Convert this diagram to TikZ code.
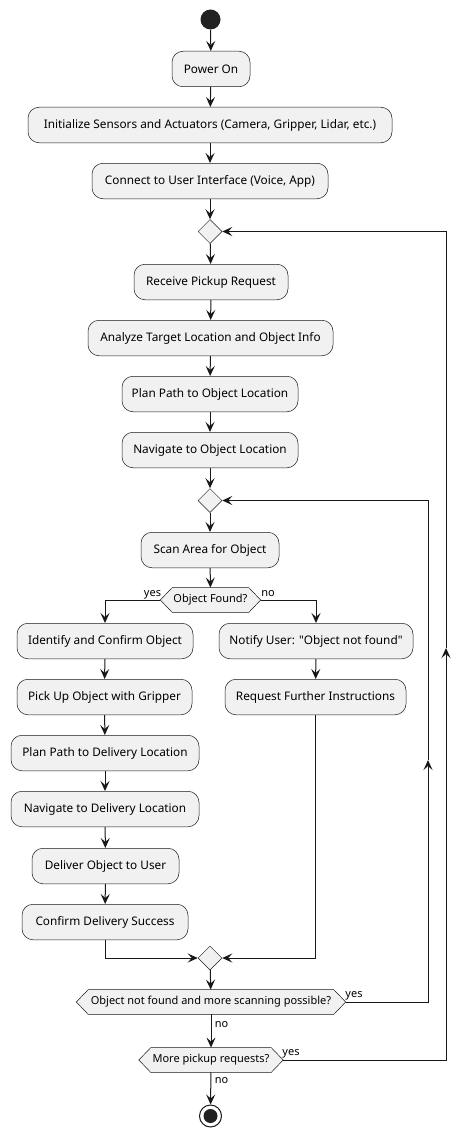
\documentclass[tikz,border=0pt]{standalone}
\usepackage{fontspec}
\setmainfont{Noto Sans}[Ligatures=TeXOff]
\usetikzlibrary{shapes.geometric,arrows.meta,backgrounds}
\definecolor{boxfill}{HTML}{F1F1F1}
\definecolor{ink}{HTML}{181818}
\definecolor{dotc}{HTML}{222222}
\begin{document}
\begin{tikzpicture}[x=1pt,y=-1pt,
  act/.style={draw=ink, fill=boxfill, line width=0.5pt, rounded corners=11pt,
    minimum height=35.5pt, inner sep=0pt, font=\fontsize{11.8}{14}\selectfont},
  dia/.style={draw=ink, fill=boxfill, line width=0.5pt, diamond, inner sep=0pt,
    minimum width=24pt, minimum height=24pt},
  hexa/.style={inner sep=0pt, minimum height=24.5pt, font=\fontsize{11}{13}\selectfont},
  hexline/.style={draw=ink, fill=boxfill, line width=0.5pt},
  lbl/.style={font=\fontsize{11}{13}\selectfont, inner sep=0pt},
  arr/.style={draw=ink, line width=1pt, -{Stealth[length=10pt,width=9pt,inset=4pt]}},
  ln/.style={draw=ink, line width=1pt}
]
\useasboundingbox (0,0) rectangle (470,1137);

\node[circle, fill=dotc, minimum size=20pt, inner sep=0pt] (start) at (210.5,19.5) {};
\node[act, minimum width=78pt] (power) at (211,69) {Power On};
\node[act, minimum width=364pt] (init) at (210,125) {Initialize Sensors and Actuators (Camera, Gripper, Lidar, etc.)};
\node[act, minimum width=236pt] (connect) at (210,181) {Connect to User Interface (Voice, App)};
\node[dia] (d1) at (210,231.5) {};
\node[act, minimum width=154pt] (receive) at (211,282) {Receive Pickup Request};
\node[act, minimum width=245pt] (analyze) at (210.5,338) {Analyze Target Location and Object Info};
\node[act, minimum width=176pt] (planobj) at (210,394) {Plan Path to Object Location};
\node[act, minimum width=176pt] (navobj) at (210,450) {Navigate to Object Location};
\node[dia] (d2) at (210,500.5) {};
\node[act, minimum width=138pt] (scan) at (210,550) {Scan Area for Object};
\node[hexa, minimum width=76pt] (found) at (210.5,600) {Object Found?};
\node[act, minimum width=176pt] (identify) at (105,641) {Identify and Confirm Object};
\node[act, minimum width=194pt] (notify) at (316,641) {Notify User: "Object not found"};
\node[act, minimum width=175pt] (pickup) at (104.5,697) {Pick Up Object with Gripper};
\node[act, minimum width=181pt] (request) at (315.5,697) {Request Further Instructions};
\node[act, minimum width=188pt] (plandel) at (105,753) {Plan Path to Delivery Location};
\node[act, minimum width=188pt] (navdel) at (105,809) {Navigate to Delivery Location};
\node[act, minimum width=147pt] (deliver) at (105.5,866) {Deliver Object to User};
\node[act, minimum width=166pt] (confirm) at (105,922) {Confirm Delivery Success};
\node[dia] (m) at (210,958) {};
\node[hexa, minimum width=245pt] (notfound) at (211,1002) {Object not found and more scanning possible?};
\node[hexa, minimum width=120pt] (more) at (211,1060) {More pickup requests?};
\node[circle, draw=ink, fill=white, line width=1pt, minimum size=22pt, inner sep=0pt] (stop) at (210.5,1116) {};
\node[circle, fill=dotc, minimum size=14pt, inner sep=0pt] (stopdot) at (stop.center) {};

% hexagon outlines and their tips
\foreach \h in {found,notfound,more}{
  \coordinate (\h W) at ([xshift=-12pt]\h.west);
  \coordinate (\h E) at ([xshift=12pt]\h.east);
}
\begin{scope}[on background layer]
\foreach \h in {found,notfound,more}{
  \path[hexline] (\h.north west) -- (\h.north east) -- (\h E) -- (\h.south east)
    -- (\h.south west) -- (\h W) -- cycle;
}
\end{scope}

\coordinate (c1) at (428,760);
\coordinate (c2) at (446,648);

\draw[arr] (start) -- (power);
\draw[arr] (power) -- (init);
\draw[arr] (init) -- (connect);
\draw[arr] (connect) -- (d1);
\draw[arr] (d1) -- (receive);
\draw[arr] (receive) -- (analyze);
\draw[arr] (analyze) -- (planobj);
\draw[arr] (planobj) -- (navobj);
\draw[arr] (navobj) -- (d2);
\draw[arr] (d2) -- (scan);
\draw[arr] (scan) -- (found);
\draw[arr] (foundW) -| (identify.north);
\draw[arr] (foundE) -| (notify.north);
\draw[arr] (identify) -- (pickup);
\draw[arr] (pickup) -- (plandel);
\draw[arr] (plandel) -- (navdel);
\draw[arr] (navdel) -- (deliver);
\draw[arr] (deliver) -- (confirm);
\draw[arr] (notify) -- (request);
\draw[arr] (confirm.south) |- (m.west);
\draw[arr] (request.south) |- (m.east);
\draw[arr] (m) -- (notfound);
\draw[arr] (notfound) -- (more);
\draw[arr] (more) -- (stop);
\draw[arr] (notfoundE) -| (c1);
\draw[arr] (c1) |- (d2.east);
\draw[arr] (moreE) -| (c2);
\draw[arr] (c2) |- (d1.east);

\node[lbl] (lyes1) at (152.5,594.5) {yes};
\node[lbl] (lno1) at (268,594) {no};
\node[lbl] (lyes2) at (354,996) {yes};
\node[lbl] (lno2) at (221.5,1024.5) {no};
\node[lbl] (lyes3) at (291,1053.5) {yes};
\node[lbl] (lno3) at (221.5,1080.5) {no};
\end{tikzpicture}
\end{document}
